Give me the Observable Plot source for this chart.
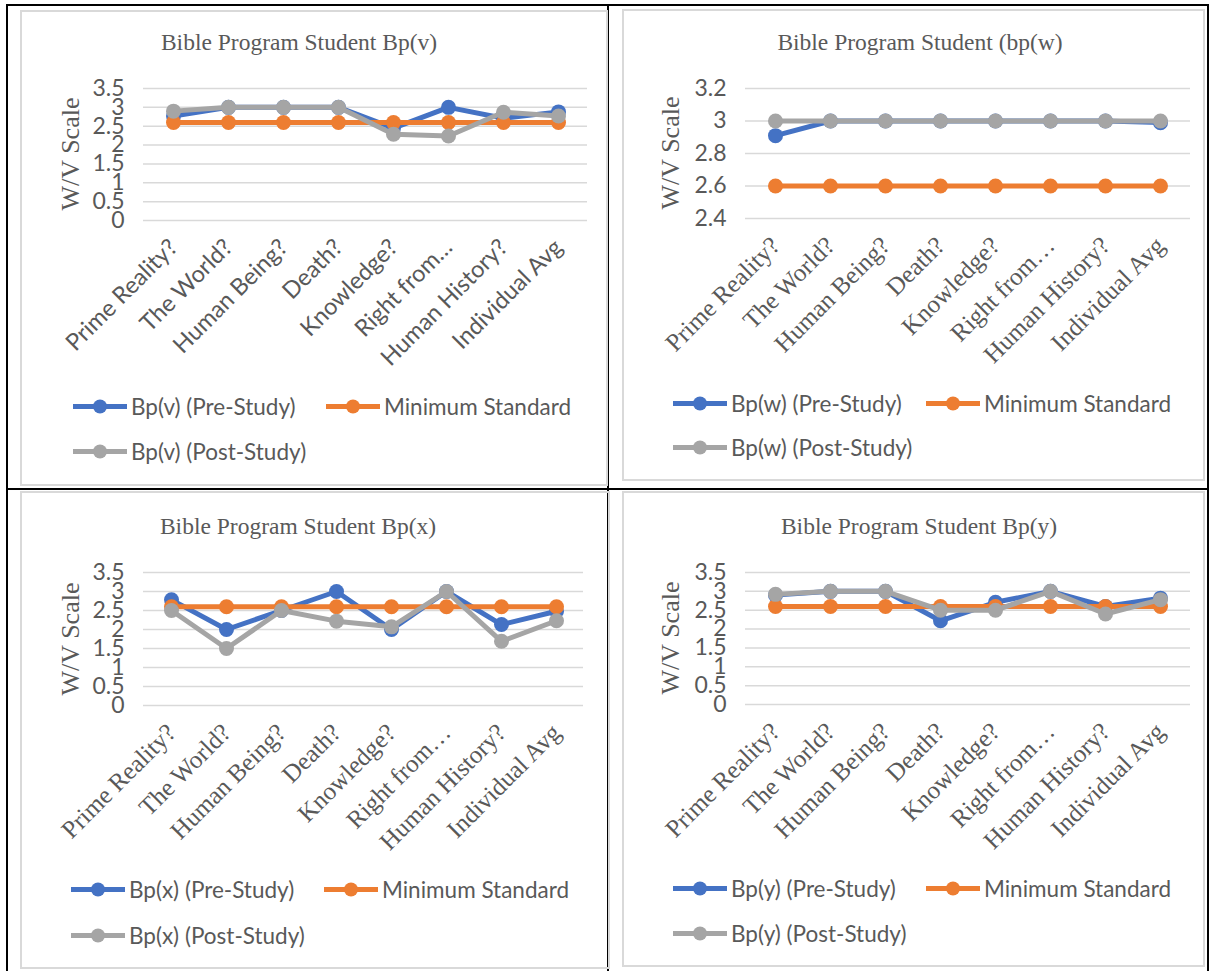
<!DOCTYPE html>
<html><head><meta charset="utf-8">
<script src="https://cdn.jsdelivr.net/npm/d3@7"></script>
<script src="https://cdn.jsdelivr.net/npm/@observablehq/plot@0.6"></script>
<style>
body{margin:0;background:#fff;width:1209px;height:971px;position:relative;overflow:hidden;font-family:Lato,sans-serif;}
.line{position:absolute;background:#000}
.frame{position:absolute;border:2px solid #d9d9d9;box-sizing:border-box}
.title{position:absolute;font-family:"Liberation Serif",serif;font-size:23.5px;color:#595959;white-space:nowrap;transform:translate(-50%,-50%)}
.ytitle{position:absolute;font-family:"Liberation Serif",serif;font-size:26px;color:#595959;white-space:nowrap;transform:translate(-50%,-50%) rotate(-90deg)}
.leg{position:absolute;display:flex;align-items:center;font-family:Lato,sans-serif;font-size:22.5px;color:#595959;white-space:nowrap;transform:translateY(-50%)}
.leg svg{margin-right:3px}
.plot{position:absolute}
</style></head><body>
<script>
// ---- data ----
const categories = ["Prime Reality?","The World?","Human Being?","Death?","Knowledge?","Right from…","Human History?","Individual Avg"];
const minimumStandard = [2.6,2.6,2.6,2.6,2.6,2.6,2.6,2.6];

const vPre  = [2.77,3.0,3.0,3.0,2.45,3.0,2.71,2.88];
const vPost = [2.9,3.0,3.0,3.0,2.29,2.24,2.87,2.77];

const wPre  = [2.91,3.0,3.0,3.0,3.0,3.0,3.0,2.99];
const wPost = [3.0,3.0,3.0,3.0,3.0,3.0,3.0,3.0];

const xPre  = [2.78,2.0,2.5,3.0,2.0,3.0,2.13,2.48];
const xPost = [2.5,1.5,2.5,2.22,2.07,3.0,1.69,2.23];

const yPre  = [2.9,3.0,3.0,2.22,2.71,3.0,2.6,2.82];
const yPost = [2.92,3.0,3.0,2.5,2.5,3.0,2.4,2.78];

const ticksFull = [0,0.5,1,1.5,2,2.5,3,3.5];
const ticksW = [2.4,2.6,2.8,3,3.2];

const yAxisTitle = "W/V Scale";
const minLabel = "Minimum Standard";

const colors = {pre:"#4472C4", min:"#ED7D31", post:"#A5A5A5"};
const SERIF = "'Liberation Serif', 'Times New Roman', serif";
const SANS = "Lato, sans-serif";

// ---- layout ----
const panels = [
  {title:"Bible Program Student Bp(v)", name:"Bp(v)", pre:vPre, post:vPost, ticks:ticksFull, domain:[0,3.5], xFont:SANS,
   frame:[20,10,588,476], gx:[143,587], gy:[88,220], titleX:299, titleY:42, yTitleX:71, legY:[406,451], legX:[72,325]},
  {title:"Bible Program Student (bp(w)", name:"Bp(w)", pre:wPre, post:wPost, ticks:ticksW, domain:[2.4,3.2], xFont:SERIF,
   frame:[622,9,583,472], gx:[745,1190], gy:[88,218], titleX:920, titleY:42, yTitleX:671, legY:[403,447], legX:[672,925]},
  {title:"Bible Program Student Bp(x)", name:"Bp(x)", pre:xPre, post:xPost, ticks:ticksFull, domain:[0,3.5], xFont:SERIF,
   frame:[20,491,590,478], gx:[143,583], gy:[572,705], titleX:298, titleY:526, yTitleX:71, legY:[889,935], legX:[70,323]},
  {title:"Bible Program Student Bp(y)", name:"Bp(y)", pre:yPre, post:yPost, ticks:ticksFull, domain:[0,3.5], xFont:SERIF,
   frame:[622,491,583,476], gx:[745,1190], gy:[572,704], titleX:919, titleY:526, yTitleX:671, legY:[888,933], legX:[672,925]}
];

function el(tag, cls, style, text){
  const e = document.createElement(tag);
  if (cls) e.className = cls;
  Object.assign(e.style, style||{});
  if (text != null) e.textContent = text;
  document.body.appendChild(e);
  return e;
}

// table borders
el("div","line",{left:"6px",top:"4px",width:"1203px",height:"2px"});
el("div","line",{left:"6px",top:"4px",width:"2px",height:"967px"});
el("div","line",{left:"607px",top:"4px",width:"2px",height:"967px"});
el("div","line",{left:"1207px",top:"4px",width:"2px",height:"967px"});
el("div","line",{left:"6px",top:"488px",width:"1203px",height:"2px"});

function swatch(color){
  const ns = "http://www.w3.org/2000/svg";
  const s = document.createElementNS(ns,"svg");
  s.setAttribute("width","56"); s.setAttribute("height","16");
  s.innerHTML = `<line x1="1" y1="8" x2="55" y2="8" stroke="${color}" stroke-width="5"/><circle cx="28" cy="8" r="7" fill="${color}"/>`;
  return s;
}

for (const p of panels) {
  const [fl, ft, fw, fh] = p.frame;
  el("div","frame",{left:fl+"px",top:ft+"px",width:fw+"px",height:fh+"px"});
  el("div","title",{left:p.titleX + "px", top:p.titleY+"px"}, p.title);
  el("div","ytitle",{left:p.yTitleX + "px", top:(p.gy[0]+p.gy[1])/2 + "px"}, yAxisTitle);

  const rows = [];
  const series = [
    {key:"pre", label:`${p.name} (Pre-Study)`, vals:p.pre},
    {key:"min", label:minLabel, vals:minimumStandard},
    {key:"post", label:`${p.name} (Post-Study)`, vals:p.post}
  ];
  for (const s of series) categories.forEach((c,i) => rows.push({cat:c, value:s.vals[i], key:s.key}));

  const mt = 40, mb = 160;
  const svgTop = p.gy[0] - mt;
  const height = (p.gy[1]-p.gy[0]) + mt + mb;
  const marks = [
    Plot.gridY(p.ticks, {stroke:"#d9d9d9", strokeOpacity:1, strokeWidth:1.5}),
    Plot.axisY(p.ticks, {tickSize:0, tickPadding:19, fontSize:23, fontFamily:SANS, fill:"#595959", label:null, tickFormat:d => String(d)}),
    Plot.axisX(categories, {tickSize:0, tickPadding:23, tickRotate:-45, textAnchor:"end", fontSize:p.xFont===SANS?23.5:25, fontFamily:p.xFont, fill:"#595959", label:null})
  ];
  for (const s of series) {
    const d = rows.filter(r => r.key === s.key);
    marks.push(Plot.line(d, {x:"cat", y:"value", stroke:colors[s.key], strokeWidth:5}));
    marks.push(Plot.dot(d, {x:"cat", y:"value", r:7.5, fill:colors[s.key], stroke:null}));
  }
  const chart = Plot.plot({
    width: fw, height,
    marginLeft: p.gx[0]-fl, marginRight: fl+fw-p.gx[1], marginTop: mt, marginBottom: mb,
    x: {type:"point", domain:categories, padding:0.5},
    y: {domain:p.domain},
    style: {background:"transparent", color:"#595959", overflow:"visible"},
    marks
  });
  chart.classList.add("plot");
  chart.style.left = fl+"px"; chart.style.top = svgTop+"px";
  document.body.appendChild(chart);

  // legend
  const entries = [[series[0], p.legX[0], p.legY[0]], [series[1], p.legX[1], p.legY[0]], [series[2], p.legX[0], p.legY[1]]];
  for (const [s, x, y] of entries) {
    const lg = el("div","leg",{left:x+"px",top:y+"px"});
    lg.appendChild(swatch(colors[s.key]));
    const t = document.createElement("span"); t.textContent = s.label; lg.appendChild(t);
  }
}
</script>
</body></html>
